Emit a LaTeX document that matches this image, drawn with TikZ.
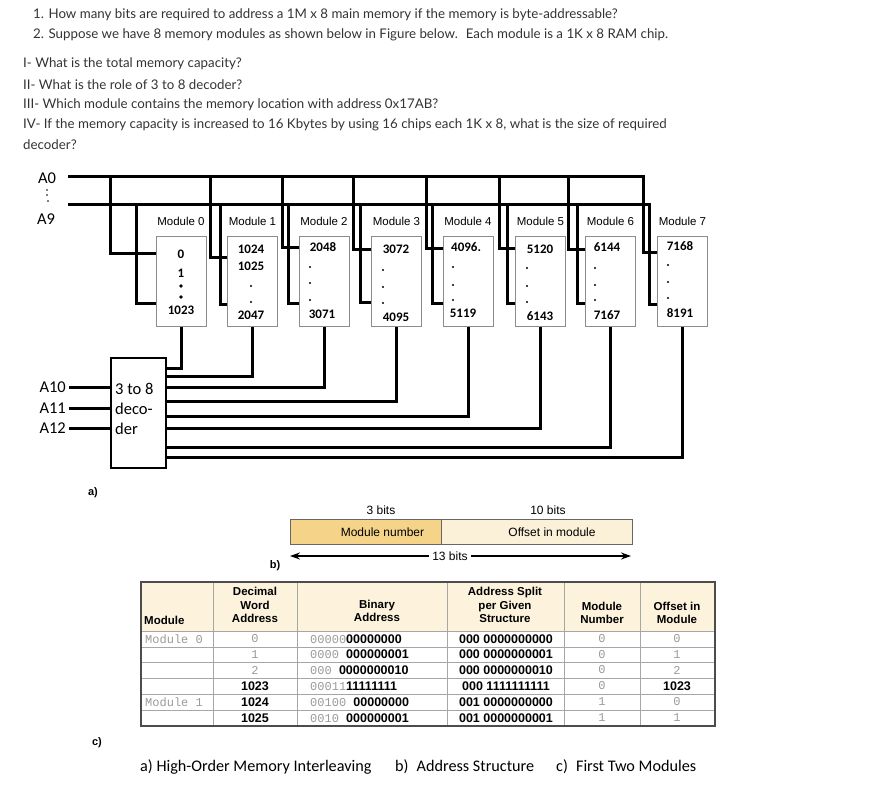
\documentclass[tikz,border=0pt]{standalone}
\usepackage{fontspec}
\setmainfont{Lato}
\newfontfamily\arialf{Liberation Sans}
\newfontfamily\calf{Carlito}
\newfontfamily\monof{Liberation Mono}
\usetikzlibrary{arrows.meta}
\definecolor{modfill}{HTML}{F5D48A}
\definecolor{offfill}{HTML}{FBF0D8}
\definecolor{hdrfill}{HTML}{FDF3DD}
\definecolor{gtxt}{HTML}{9A9A9A}
\definecolor{boxgray}{HTML}{8C8C8C}
\definecolor{qtxt}{HTML}{333333}
\begin{document}
\begin{tikzpicture}[x=1pt,y=-1pt,
  bus/.style={line width=3pt},
  modbox/.style={draw=boxgray, line width=1pt, minimum width=50pt, minimum height=90pt, inner sep=0pt},
  modlbl/.style={font=\arialf\fontsize{11.5}{12}\selectfont, inner sep=0pt},
  num/.style={font=\calf\bfseries\fontsize{13}{14}\selectfont, inner sep=0pt},
  qline/.style={anchor=west, font=\fontsize{13.3}{15}\selectfont, text=qtxt, inner sep=0pt},
  addr/.style={font=\calf\fontsize{16.5}{20}\selectfont, inner sep=1pt},
  blbl/.style={font=\arialf\fontsize{12}{13}\selectfont, inner sep=0pt},
  hdr/.style={font=\arialf\bfseries\fontsize{11.5}{13.5}\selectfont, align=center, inner sep=0pt},
  mono/.style={font=\monof\fontsize{12}{13}\selectfont, text=gtxt, inner sep=0pt},
  gnum/.style={font=\monof\fontsize{12}{13}\selectfont, text=gtxt, inner sep=0pt},
  bnum/.style={font=\arialf\bfseries\fontsize{12.5}{13}\selectfont, inner sep=0pt},
  gridl/.style={draw=gray!70, line width=0.8pt},
  captxt/.style={font=\calf\fontsize{16.2}{17}\selectfont, anchor=west, inner sep=0pt},
  sublbl/.style={font=\arialf\bfseries\fontsize{11}{12}\selectfont, inner sep=0pt}
]
\useasboundingbox (0,0) rectangle (876,787);

% ---------------- questions
\node[qline] (q1) at (33,15) {1. How many bits are required to address a 1M x 8 main memory if the memory is byte-addressable?};
\node[qline] (q2) at (33,35) {2. Suppose we have 8 memory modules as shown below in Figure below.~ Each module is a 1K x 8 RAM chip.};
\node[qline] (q3) at (23,64) {I- What is the total memory capacity?};
\node[qline] (q4) at (23,85) {II- What is the role of 3 to 8 decoder?};
\node[qline] (q5) at (23,105) {III- Which module contains the memory location with address 0x17AB?};
\node[qline] (q6) at (23,125) {IV- If the memory capacity is increased to 16 Kbytes by using 16 chips each 1K x 8, what is the size of required};
\node[qline] (q7) at (23,145) {decoder?};

% ---------------- modules
\foreach \i/\cx in {0/181,1/252.5,2/324,3/396.5,4/468,5/540.5,6/610.5,7/682.5}{
  \node[modbox] (m\i) at (\cx,281) {};
  \node[modlbl] (ml\i) at (\cx,221) {Module \i};
}

% bus labels
\node[addr] (a0lab) at (47,178) {A0};
\node[addr] (a9lab) at (46,219) {A9};
\fill (47,190) circle (0.9pt) (47,195) circle (0.9pt) (48,201) circle (0.9pt);

% address bus
\coordinate (a0l) at (68,176);
\coordinate (a9l) at (68,204);
\draw[bus] (a0l) -- (643,176) |- (m7.west |- 0,252);
\draw[bus] (a9l) -- (649,204) |- (m7.west |- 0,304);
\foreach \i/\xa/\ya/\xb/\yb in {0/110/253/136/303, 1/210/257/220/304, 2/282/247/288/303, 3/353/249/360/302, 4/426/248/432/303, 5/499/248/507/303, 6/568/249/577/303}{
  \draw[bus] (\xa,176) |- (m\i.west |- 0,\ya);
  \draw[bus] (\xb,204) |- (m\i.west |- 0,\yb);
}

% module contents
\node[num] at (181,254) {0};
\node[num] at (181,273) {1};
\fill (181,286) circle (1.8pt) (181,297) circle (1.8pt);
\node[num] at (181,310) {1023};

\node[num] at (251,249) {1024};
\node[num] at (251,266) {1025};
\fill (251,286) circle (1.1pt) (251,302) circle (1.1pt);
\node[num] at (251,315) {2047};

\node[num] at (323,247) {2048};
\fill (310,267) circle (1.1pt) (310,283) circle (1.1pt) (310,300) circle (1.1pt);
\node[num] at (322,314) {3071};

\node[num] at (396,249) {3072};
\fill (383,270) circle (1.1pt) (383,287) circle (1.1pt) (383,303) circle (1.1pt);
\node[num] at (396,317) {4095};

\node[num, anchor=west] at (451,247) {4096.};
\fill (453,267) circle (1.1pt) (453,285) circle (1.1pt) (453,300) circle (1.1pt);
\node[num] at (463,313) {5119};

\node[num] at (540,249) {5120};
\fill (527,268) circle (1.1pt) (527,286) circle (1.1pt) (527,302) circle (1.1pt);
\node[num] at (540,316) {6143};

\node[num] at (607,247) {6144};
\fill (595,268) circle (1.1pt) (595,285) circle (1.1pt) (595,300) circle (1.1pt);
\node[num] at (607,315) {7167};

\node[num] at (680,246) {7168};
\fill (668,265) circle (1.1pt) (668,282) circle (1.1pt) (668,298) circle (1.1pt);
\node[num] at (680,313) {8191};

% ---------------- decoder
\node[draw, line width=2.6pt, minimum width=55pt, minimum height=110pt, inner sep=0pt] (dec) at (138.5,413) {};
\node[addr, anchor=west, align=left] (dectxt) at (114,409) {3 to 8\\deco-\\der};
\foreach \i/\y in {0/368,1/376,2/387,3/401,4/416,5/428,6/447,7/457}{
  \draw[bus] (dec.east |- 0,\y) -| (m\i.south);
}
\node[addr, anchor=east] (a10) at (67,387) {A10};
\node[addr, anchor=east] (a11) at (67,408) {A11};
\node[addr, anchor=east] (a12) at (67,428) {A12};
\foreach \n in {a10,a11,a12}{
  \draw[bus] ([xshift=2pt]\n.east) -- (dec.west |- \n.east);
}
\node[sublbl] (la) at (93,493) {a)};

% ---------------- address structure
\node[draw=gray!80!black, line width=1pt, fill=modfill, minimum width=151pt, minimum height=25pt, anchor=north west, inner sep=0pt, font=\arialf\fontsize{12}{13}\selectfont] (modnum) at (290,519) {\hspace*{33pt}Module number};
\node[draw=gray!80!black, line width=1pt, fill=offfill, minimum width=191pt, minimum height=25pt, anchor=north west, inner sep=0pt, font=\arialf\fontsize{12}{13}\selectfont] (offs) at (441,519) {\hspace*{30pt}Offset in module};
\node[blbl] (b3) at (381,510) {3 bits};
\node[blbl] (b10) at (548,510) {10 bits};
\coordinate (arL) at (290,556);
\coordinate (arR) at (631,556);
\draw[line width=1.6pt, {Stealth[length=10pt,width=7pt]}-{Stealth[length=10pt,width=7pt]}] (arL) -- (arR);
\node[blbl, fill=white, inner xsep=3pt, inner ysep=2pt] (b13) at (450,556) {13 bits};
\node[sublbl] (lb) at (275,566) {b)};

% ---------------- table
\fill[hdrfill] (141,582) rectangle (715,631);
\foreach \y in {631,647,662,678,694,710}{
  \draw[gridl] (141,\y) -- (715,\y);
}
\foreach \x in {213,297,447,564,640}{
  \draw[gridl] (\x,582) -- (\x,726);
}
\draw[draw=gray!60!black, line width=1.2pt] (141,582) rectangle (715,726);

\node[hdr, anchor=west] (h1) at (144,620) {Module};
\node[hdr] (h2) at (255,605) {Decimal\\Word\\Address};
\node[hdr] (h3) at (377,611) {Binary\\Address};
\node[hdr] (h4) at (505,605) {Address Split\\per Given\\Structure};
\node[hdr] (h5) at (602,613) {Module\\Number};
\node[hdr] (h6) at (677,613) {Offset in\\Module};

% column 1
\node[mono, anchor=west] at (145,639) {Module 0};
\node[mono, anchor=west] at (145,702) {Module 1};
% column 2
\node[gnum] at (255,639) {0};
\node[gnum] at (255,654.5) {1};
\node[gnum] at (255,670) {2};
\node[bnum] at (255,686) {1023};
\node[bnum] at (255,702) {1024};
\node[bnum] at (255,718) {1025};
% column 3
\node[anchor=west, inner sep=0pt] at (310,639) {\monof\fontsize{12}{13}\selectfont\textcolor{gtxt}{00000}\arialf\bfseries\fontsize{12.5}{13}\selectfont 00000000};
\node[anchor=west, inner sep=0pt] at (310,654.5) {\monof\fontsize{12}{13}\selectfont\textcolor{gtxt}{0000 }\arialf\bfseries\fontsize{12.5}{13}\selectfont 000000001};
\node[anchor=west, inner sep=0pt] at (310,670) {\monof\fontsize{12}{13}\selectfont\textcolor{gtxt}{000 }\arialf\bfseries\fontsize{12.5}{13}\selectfont 0000000010};
\node[anchor=west, inner sep=0pt] at (310,686) {\monof\fontsize{12}{13}\selectfont\textcolor{gtxt}{00011}\arialf\bfseries\fontsize{12.5}{13}\selectfont 11111111};
\node[anchor=west, inner sep=0pt] at (310,702) {\monof\fontsize{12}{13}\selectfont\textcolor{gtxt}{00100 }\arialf\bfseries\fontsize{12.5}{13}\selectfont 00000000};
\node[anchor=west, inner sep=0pt] at (310,718) {\monof\fontsize{12}{13}\selectfont\textcolor{gtxt}{0010 }\arialf\bfseries\fontsize{12.5}{13}\selectfont 000000001};
% column 4
\node[bnum] at (506,639) {000 0000000000};
\node[bnum] at (506,654.5) {000 0000000001};
\node[bnum] at (506,670) {000 0000000010};
\node[bnum] at (506,686) {000 1111111111};
\node[bnum] at (506,702) {001 0000000000};
\node[bnum] at (506,718) {001 0000000001};
% column 5
\node[gnum] at (602,639) {0};
\node[gnum] at (602,654.5) {0};
\node[gnum] at (602,670) {0};
\node[gnum] at (602,686) {0};
\node[gnum] at (602,702) {1};
\node[gnum] at (602,718) {1};
% column 6
\node[gnum] at (677,639) {0};
\node[gnum] at (677,654.5) {1};
\node[gnum] at (677,670) {2};
\node[bnum] at (677,686) {1023};
\node[gnum] at (677,702) {0};
\node[gnum] at (677,718) {1};

% ---------------- captions
\node[sublbl] (lc) at (97,743) {c)};
\node[captxt] (c1) at (140,767) {a) High-Order Memory Interleaving};
\node[captxt] (c2) at (395,767) {b)\enspace Address Structure};
\node[captxt] (c3) at (556,767) {c)\enspace First Two Modules};
\end{tikzpicture}
\end{document}
